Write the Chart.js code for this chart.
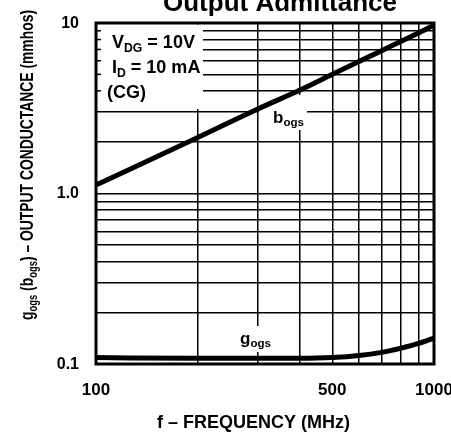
<!DOCTYPE html>
<html><head><meta charset="utf-8">
<script src="https://cdn.jsdelivr.net/npm/chart.js@4.4.0/dist/chart.umd.min.js"></script>
<style>html,body{margin:0;padding:0;background:#fff;overflow:hidden}canvas{display:block}</style>
</head><body>
<canvas id="c" width="451" height="435"></canvas>
<script>
// ---- data ----
const frequencies = [100, 200, 300, 400, 500, 600, 700, 800, 900, 1000];
const bogsValues  = [1.12, 2.13, 3.12, 4.03, 5.0, 5.95, 6.88, 7.82, 8.75, 9.7];
const gogsValues  = [0.109, 0.108, 0.108, 0.108, 0.109, 0.112, 0.117, 0.124, 0.132, 0.142];
const xGridValues = [100, 200, 300, 400, 500, 600, 700, 800, 900, 1000];
const yGridValues = [0.1,0.2,0.3,0.4,0.5,0.6,0.7,0.8,0.9,1,2,3,4,5,6,7,8,9,10];
const xLabelValues = [100, 500, 1000];
const xLabelTexts  = ['100', '500', '1000'];
const yLabelValues = [0.1, 1, 10];
const yLabelTexts  = ['0.1', '1.0', '10'];
const boxTickValues = [4, 5, 6, 7, 8, 9];

const FONT = '"Liberation Sans", Arial, Helvetica, sans-serif';

function richWidth(ctx, segs, size) {
  let w = 0;
  for (const [t, sub] of segs) {
    ctx.font = `bold ${sub ? size * 0.68 : size}px ${FONT}`;
    w += ctx.measureText(t).width;
  }
  return w;
}
function drawRich(ctx, segs, x, y, size, align) {
  const total = richWidth(ctx, segs, size);
  let cx = align === 'center' ? x - total / 2 : (align === 'right' ? x - total : x);
  ctx.textAlign = 'left';
  ctx.textBaseline = 'alphabetic';
  for (const [t, sub] of segs) {
    const s = sub ? size * 0.68 : size;
    ctx.font = `bold ${s}px ${FONT}`;
    ctx.fillText(t, cx, sub ? y + size * 0.2 : y);
    cx += ctx.measureText(t).width;
  }
}

const decor = {
  id: 'decor',
  beforeDatasetsDraw(chart) {
    const ctx = chart.ctx, a = chart.chartArea;
    ctx.save();
    ctx.fillStyle = '#fff';
    ctx.fillRect(a.left + 1.5, a.top + 1.5, 203 - a.left - 1.5, 109 - a.top - 1.5);
    ctx.fillRect(259, 95, 48, 35);
    ctx.fillRect(236, 326, 34, 26);
    ctx.restore();
  },
  afterDatasetsDraw(chart) {
    const ctx = chart.ctx, a = chart.chartArea;
    const xs = chart.scales.x, ys = chart.scales.y;
    ctx.save();
    ctx.strokeStyle = '#000';
    ctx.lineWidth = 3;
    ctx.strokeRect(a.left, a.top, a.right - a.left, a.bottom - a.top);
    ctx.lineWidth = 1.5;
    for (const v of boxTickValues) {
      const py = ys.getPixelForValue(v);
      ctx.beginPath(); ctx.moveTo(a.left, py); ctx.lineTo(a.left + 5, py); ctx.stroke();
    }
    ctx.fillStyle = '#000';
    // info box
    drawRich(ctx, [['V',0],['DG',1],[' = 10V',0]], 112, 48, 18, 'left');
    drawRich(ctx, [['I',0],['D',1],[' = 10 mA',0]], 112, 73, 18, 'left');
    drawRich(ctx, [['(CG)',0]], 107, 98, 18, 'left');
    // curve labels
    drawRich(ctx, [['b',0],['ogs',1]], 273, 123, 17, 'left');
    drawRich(ctx, [['g',0],['ogs',1]], 240, 344, 17, 'left');
    // tick labels
    ctx.textBaseline = 'alphabetic';
    ctx.font = `bold 16px ${FONT}`;
    ctx.textAlign = 'right';
    yLabelValues.forEach((v, i) => ctx.fillText(yLabelTexts[i], 79, ys.getPixelForValue(v) + 4.5));
    ctx.font = `bold 17px ${FONT}`;
    ctx.textAlign = 'center';
    xLabelValues.forEach((v, i) => ctx.fillText(xLabelTexts[i], xs.getPixelForValue(v), 395));
    // x title
    ctx.font = `bold 18px ${FONT}`;
    ctx.fillText('f \u2013 FREQUENCY (MHz)', 253.5, 428);
    // main title
    ctx.font = `bold 26px ${FONT}`;
    ctx.fillText('Output Admittance', 280, 11);
    // y title rotated, condensed to fit its length
    const segs = [['g',0],['ogs',1],[' (',0],['b',0],['ogs',1],[') \u2013 OUTPUT CONDUCTANCE (mmhos)',0]];
    const size = 17.5;
    const w = richWidth(ctx, segs, size);
    ctx.translate(27, 165);
    ctx.rotate(-Math.PI / 2);
    ctx.scale(310 / w, 1);
    drawRich(ctx, segs, 0, size * 0.36, size, 'center');
    ctx.restore();
  }
};

const gridOpts = { color: '#000', lineWidth: 1.5, drawTicks: false };

new Chart(document.getElementById('c'), {
  type: 'line',
  data: {
    datasets: [
      { label: 'bogs', data: frequencies.map((f, i) => ({ x: f, y: bogsValues[i] })) },
      { label: 'gogs', data: frequencies.map((f, i) => ({ x: f, y: gogsValues[i] })) }
    ]
  },
  options: {
    responsive: false,
    animation: false,
    devicePixelRatio: 1,
    layout: { padding: { left: 96, right: 17, top: 23, bottom: 71 } },
    elements: {
      line: { borderColor: '#000', borderWidth: 5, cubicInterpolationMode: 'monotone', fill: false },
      point: { radius: 0, hoverRadius: 0 }
    },
    plugins: { legend: { display: false }, tooltip: { enabled: false }, title: { display: false } },
    scales: {
      x: {
        type: 'logarithmic', min: 100, max: 1000,
        grid: gridOpts, border: { display: false },
        ticks: { display: false },
        afterBuildTicks: s => { s.ticks = xGridValues.map(v => ({ value: v })); },
        afterFit: s => { s.height = 0; }
      },
      y: {
        type: 'logarithmic', min: 0.1, max: 10,
        grid: gridOpts, border: { display: false },
        ticks: { display: false },
        afterBuildTicks: s => { s.ticks = yGridValues.map(v => ({ value: v })); },
        afterFit: s => { s.width = 0; }
      }
    }
  },
  plugins: [decor]
});
</script>
</body></html>
